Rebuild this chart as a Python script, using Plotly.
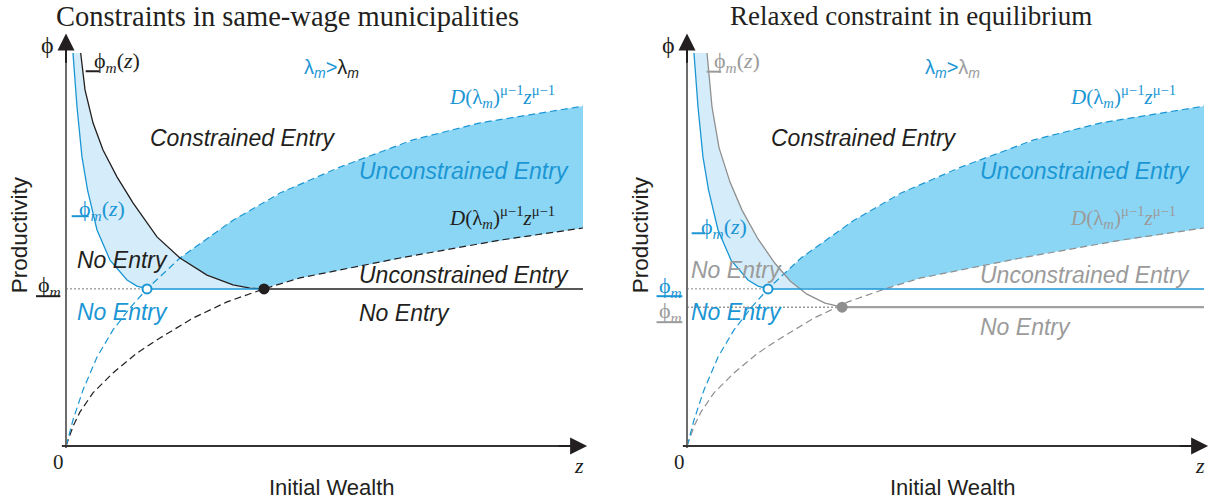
import numpy as np
import plotly.graph_objects as go

# ---------------- data read from the schematic (z = initial wealth, phi = productivity) -------------
# upper threshold D(lambda_m_new)^(mu-1) z^(mu-1)  (blue dashed, both panels)
Z_UPPER = [0, 0.19, 1.35, 3.29, 6.0, 9.09, 12.38, 15.67, 22.05, 32.3, 41.4, 53.0, 67.1, 80.1, 100]
PHI_UPPER = [0, 0.74, 6.4, 13.8, 21.9, 28.6, 34.0, 38.7, 46.3, 55.6, 62.3, 68.7, 75.4, 79.6, 83.7]
# lower threshold D(lambda_m)^(mu-1) z^(mu-1)  (black / grey dashed)
Z_LOWER = [0, 0.19, 1.42, 2.71, 5.22, 9.09, 13.73, 18.18, 24.56, 31.14, 38.3, 45.26, 64.6, 83.9, 100]
PHI_LOWER = [0, 0.74, 5.0, 8.4, 13.1, 18.0, 22.9, 26.6, 31.5, 35.5, 38.7, 41.4, 46.3, 50.7, 53.7]
# new borrowing-constraint curve phi_m(z) (blue, both panels)
Z_CONS_NEW = [1.35, 2.13, 3.09, 4.16, 6.0, 8.51, 11.8, 13.73, 15.67]
PHI_CONS_NEW = [96.8, 83.5, 71.2, 63.1, 53.2, 45.8, 40.9, 39.4, 38.7]
# constraint curve, left panel (black)
Z_CONS_LEFT = [2.84, 3.68, 5.22, 7.16, 9.86, 12.96, 17.6, 22.05, 27.27, 32.3, 35.6, 38.3]
PHI_CONS_LEFT = [96.8, 87.7, 79.6, 72.9, 66.3, 59.9, 51.5, 46.3, 42.1, 39.7, 38.9, 38.7]
# old constraint curve, right panel (grey)
Z_CONS_OLD = [3.87, 4.84, 6.19, 8.32, 10.64, 13.73, 17.0, 20.0, 23.2, 26.7, 30.0]
PHI_CONS_OLD = [96.8, 83.5, 73.5, 65.0, 58.1, 51.0, 45.0, 40.6, 37.4, 35.2, 34.2]
# cut-off productivity levels
PHI_BAR_NEW = 38.7
PHI_BAR_OLD = 34.2
Z_MAX = 100

# ---------------- styling ----------------
BLUE = "#1b96d4"
BLACK = "#231f20"
GRAY = "#8f8f8f"
GRAYTXT = "#9b9b9b"
DARKFILL = "#8cd6f5"
LIGHTFILL = "#d5edfa"
AXGRAY = "#6d6d6d"
SERIF = "Liberation Serif"
SANS = "Liberation Sans"

SX, SY = 5.17, 4.06          # pixels per data unit
W, H = 1228, 504

fig = go.Figure()
annotations = []
shapes = []


def line(xs, ys, color, width, dash, xa, ya):
    fig.add_trace(go.Scatter(x=list(xs), y=list(ys), mode="lines",
                             line=dict(color=color, width=width, dash=dash),
                             xaxis=xa, yaxis=ya, hoverinfo="skip", showlegend=False))


def poly(xs, ys, color, xa, ya):
    fig.add_trace(go.Scatter(x=list(xs), y=list(ys), mode="lines", fill="toself",
                             fillcolor=color, line=dict(width=0, color=color),
                             xaxis=xa, yaxis=ya, hoverinfo="skip", showlegend=False))


def marker(x, y, fill, edge, size, xa, ya):
    fig.add_trace(go.Scatter(x=[x], y=[y], mode="markers",
                             marker=dict(color=fill, size=size, line=dict(color=edge, width=2)),
                             xaxis=xa, yaxis=ya, hoverinfo="skip", showlegend=False))


def text(t, x, y, xa, ya, size, color, family, xanchor="center", angle=0):
    annotations.append(dict(text=t, x=x, y=y, xref=xa, yref=ya, showarrow=False,
                            xanchor=xanchor, yanchor="middle", textangle=angle,
                            font=dict(size=size, color=color, family=family)))


def seg(x0, x1, y0, y1, color, width, xa, ya):
    shapes.append(dict(type="line", x0=x0, x1=x1, y0=y0, y1=y1, xref=xa, yref=ya,
                       line=dict(color=color, width=width)))


def arrow(x0, y0, x1, y1, color, xa, ya):
    annotations.append(dict(text="", x=x1, y=y1, ax=x0, ay=y0, xref=xa, yref=ya,
                            axref=xa, ayref=ya, showarrow=True, arrowhead=2,
                            arrowsize=1.7, arrowwidth=2, arrowcolor=color, standoff=0))


def dark_region(lower_parts, start_z):
    zg = np.linspace(0, Z_MAX, 2001)
    up = np.interp(zg, Z_UPPER, PHI_UPPER)
    low = np.full_like(zg, -np.inf)
    for zz, pp in lower_parts:
        zz = np.asarray(zz, float)
        pp = np.asarray(pp, float)
        m = (zg >= zz.min()) & (zg <= zz.max())
        low[m] = np.maximum(low[m], np.interp(zg[m], zz, pp))
    low[zg < start_z] = np.inf
    m = up > low
    zs = zg[m]
    return list(zs) + list(zs[::-1]), list(up[m]) + list(low[m][::-1])


PHI_S = "ϕ"
LAB_PHIZ = "ϕ<sub><i>m</i></sub>(<i>z</i>)"
LAB_PHI = "ϕ<sub><i>m</i></sub>"
LAB_D = "<i>D</i>(λ<sub><i>m</i></sub>)<sup>μ−1</sup><i>z</i><sup>μ−1</sup>"
LAB_LAM = "λ<sub><i>m</i></sub>"
DASH = "7px,4px"

# ================= left panel =================
xa, ya = "x", "y"
poly(Z_CONS_NEW + Z_CONS_LEFT[::-1], PHI_CONS_NEW + PHI_CONS_LEFT[::-1], LIGHTFILL, xa, ya)
dx, dy = dark_region([(Z_CONS_LEFT, PHI_CONS_LEFT), (Z_LOWER, PHI_LOWER)], Z_CONS_LEFT[0])
poly(dx, dy, DARKFILL, xa, ya)
line(Z_LOWER, PHI_LOWER, BLACK, 1.2, DASH, xa, ya)
line(Z_UPPER, PHI_UPPER, BLUE, 1.2, DASH, xa, ya)
line(Z_CONS_LEFT, PHI_CONS_LEFT, BLACK, 1.3, "solid", xa, ya)
line(Z_CONS_NEW, PHI_CONS_NEW, BLUE, 1.3, "solid", xa, ya)
line([0, Z_CONS_NEW[-1]], [PHI_BAR_NEW] * 2, "#777777", 1, "2px,2px", xa, ya)
line([Z_CONS_NEW[-1], Z_CONS_LEFT[-1]], [PHI_BAR_NEW] * 2, BLUE, 1.5, "solid", xa, ya)
line([Z_CONS_LEFT[-1], Z_MAX], [PHI_BAR_NEW] * 2, BLACK, 1.5, "solid", xa, ya)
marker(Z_CONS_NEW[-1], PHI_BAR_NEW, "white", BLUE, 9, xa, ya)
marker(Z_CONS_LEFT[-1], PHI_BAR_NEW, BLACK, BLACK, 9, xa, ya)

# ================= right panel =================
xb, yb = "x2", "y2"
zc = float(np.interp(PHI_BAR_NEW, PHI_CONS_OLD[::-1], Z_CONS_OLD[::-1]))
keep = [i for i, p in enumerate(PHI_CONS_OLD) if p >= PHI_BAR_NEW]
lx = Z_CONS_NEW + [zc] + [Z_CONS_OLD[i] for i in keep][::-1]
ly = PHI_CONS_NEW + [PHI_BAR_NEW] + [PHI_CONS_OLD[i] for i in keep][::-1]
poly(lx, ly, LIGHTFILL, xb, yb)
dx, dy = dark_region([(Z_CONS_OLD, PHI_CONS_OLD), ([Z_CONS_NEW[-1], Z_MAX], [PHI_BAR_NEW] * 2),
                      (Z_LOWER, PHI_LOWER)], Z_CONS_OLD[0])
poly(dx, dy, DARKFILL, xb, yb)
line(Z_LOWER, PHI_LOWER, GRAY, 1.2, DASH, xb, yb)
line(Z_UPPER, PHI_UPPER, BLUE, 1.2, DASH, xb, yb)
line(Z_CONS_OLD, PHI_CONS_OLD, GRAY, 1.3, "solid", xb, yb)
line(Z_CONS_NEW, PHI_CONS_NEW, BLUE, 1.3, "solid", xb, yb)
line([0, Z_CONS_NEW[-1]], [PHI_BAR_NEW] * 2, "#888888", 1, "2px,2px", xb, yb)
line([0, Z_CONS_OLD[-1]], [PHI_BAR_OLD] * 2, "#999999", 1.5, "2px,2px", xb, yb)
line([Z_CONS_NEW[-1], Z_MAX], [PHI_BAR_NEW] * 2, BLUE, 1.5, "solid", xb, yb)
line([Z_CONS_OLD[-1], Z_MAX], [PHI_BAR_OLD] * 2, "#a0a0a0", 2.2, "solid", xb, yb)
marker(Z_CONS_NEW[-1], PHI_BAR_NEW, "white", BLUE, 9, xb, yb)
marker(Z_CONS_OLD[-1], PHI_BAR_OLD, GRAY, GRAY, 9, xb, yb)

# ================= axes, labels =================
for (xr, yr, old_txt, lam_col) in [("x", "y", BLACK, BLACK), ("x2", "y2", GRAYTXT, GRAYTXT)]:
    seg(0, 0, -0.5, 97, AXGRAY, 2, xr, yr)
    arrow(0, 94, 0, 101.6, BLACK, xr, yr)
    seg(-0.8, 97, 0, 0, "#333333", 2, xr, yr)
    arrow(95, 0, 100.8, 0, BLACK, xr, yr)
    text(PHI_S, -3.6, 98.8, xr, yr, 24, BLACK, SERIF)
    text("0", -1.4, -4.0, xr, yr, 21, BLACK, SERIF)
    text("<i>z</i>", 99.2, -4.9, xr, yr, 22, BLACK, SERIF)
    text("Initial Wealth", 51.5, -10.1, xr, yr, 22, BLACK, SANS)
    text("Productivity", -9.0, 52, xr, yr, 22.5, BLACK, SANS, angle=-90)
    text("<i>Constrained Entry</i>", 15.9, 75.9, xr, yr, 23, BLACK, SANS, "left")
    text("<i>Unconstrained Entry</i>", 56.3, 67.7, xr, yr, 23, BLUE, SANS, "left")
    text("<i>Unconstrained Entry</i>", 56.3, 42.1, xr, yr, 23, old_txt, SANS, "left")
    text(LAB_D, 95.0, 86.0, xr, yr, 21, BLUE, SERIF, "right")
    text(LAB_D, 95.0, 56.2, xr, yr, 21, old_txt, SERIF, "right")
    text("<span style='color:%s'>%s&gt;</span><span style='color:%s'>%s</span>"
         % (BLUE, LAB_LAM, lam_col, LAB_LAM), 45.6, 93.1, xr, yr, 20, BLUE, SANS, "left")

# left specific
text(LAB_PHIZ, 5.0, 94.6, "x", "y", 22, BLACK, SERIF, "left")
seg(3.8, 6.5, 92.3, 92.3, BLACK, 2, "x", "y")
text(LAB_PHIZ, 2.1, 58.1, "x", "y", 22, BLUE, SERIF, "left")
seg(1.1, 4.4, 56.6, 56.6, BLUE, 2, "x", "y")
text(LAB_PHI, -0.5, 39.3, "x", "y", 22, BLACK, SERIF, "right")
seg(-5.8, -1.1, 36.9, 36.9, BLACK, 2, "x", "y")
text("<i>No Entry</i>", 1.8, 45.8, "x", "y", 23, BLACK, SANS, "left")
text("<i>No Entry</i>", 1.8, 33.0, "x", "y", 23, BLUE, SANS, "left")
text("<i>No Entry</i>", 56.3, 32.8, "x", "y", 23, BLACK, SANS, "left")

# right specific
text(LAB_PHIZ, 4.8, 94.6, "x2", "y2", 22, GRAYTXT, SERIF, "left")
seg(3.8, 6.6, 92.2, 92.2, GRAYTXT, 2, "x2", "y2")
text(LAB_PHIZ, 2.3, 53.7, "x2", "y2", 22, BLUE, SERIF, "left")
seg(0.9, 3.5, 52.4, 52.4, BLUE, 2, "x2", "y2")
text(LAB_PHI, -0.5, 39.1, "x2", "y2", 22, BLUE, SERIF, "right")
seg(-5.9, -0.9, 36.9, 36.9, BLUE, 2, "x2", "y2")
text(LAB_PHI, -0.5, 33.0, "x2", "y2", 22, GRAYTXT, SERIF, "right")
seg(-5.9, -0.9, 30.5, 30.5, GRAYTXT, 2, "x2", "y2")
text("<i>No Entry</i>", 0.4, 43.3, "x2", "y2", 23, GRAYTXT, SANS, "left")
text("<i>No Entry</i>", 0.4, 33.0, "x2", "y2", 23, BLUE, SANS, "left")
text("<i>No Entry</i>", 56.3, 29.3, "x2", "y2", 23, GRAYTXT, SANS, "left")

# titles
annotations.append(dict(text="Constraints in same-wage municipalities", x=287 / W, y=1 - 16 / H,
                        xref="paper", yref="paper", showarrow=False, xanchor="center",
                        yanchor="middle", font=dict(size=28.5, color=BLACK, family=SERIF)))
annotations.append(dict(text="Relaxed constraint in equilibrium", x=911 / W, y=1 - 16 / H,
                        xref="paper", yref="paper", showarrow=False, xanchor="center",
                        yanchor="middle", font=dict(size=27, color=BLACK, family=SERIF)))

ax_common = dict(visible=False, fixedrange=True)
fig.update_layout(
    width=W, height=H, autosize=False,
    margin=dict(l=0, r=0, t=0, b=0),
    paper_bgcolor="white", plot_bgcolor="white",
    xaxis=dict(domain=[0, 0.5], range=[-66 / SX, (614 - 66) / SX], anchor="y", **ax_common),
    yaxis=dict(domain=[0, 1], range=[-(H - 446) / SY, 446 / SY], anchor="x", **ax_common),
    xaxis2=dict(domain=[0.5, 1], range=[-(687 - 614) / SX, (W - 687) / SX], anchor="y2", **ax_common),
    yaxis2=dict(domain=[0, 1], range=[-(H - 446) / SY, 446 / SY], anchor="x2", **ax_common),
    annotations=annotations, shapes=shapes, showlegend=False,
)

fig.write_html("out.html", config={"displayModeBar": False},
               post_script="document.body.style.margin='0px';document.body.style.overflow='hidden';")
